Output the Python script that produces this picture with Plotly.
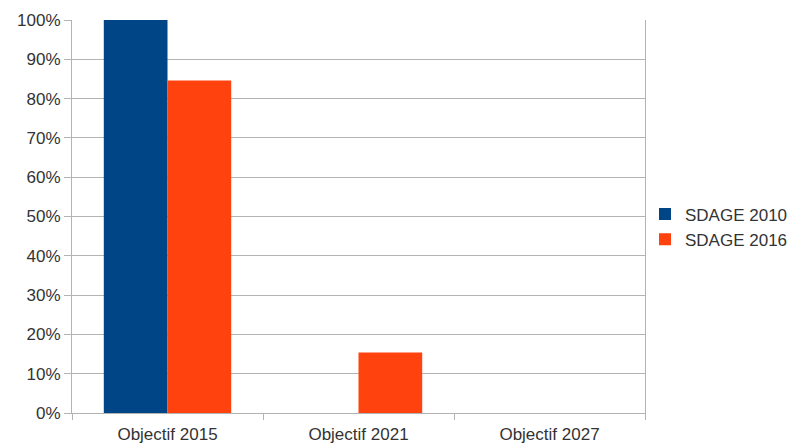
import plotly.graph_objects as go

# Part des masses d'eau par échéance d'objectif
categories = ["Objectif 2015", "Objectif 2021", "Objectif 2027"]
sdage_2010 = [100, 0, 0]
sdage_2016 = [84.6, 15.4, 0]
series_names = ["SDAGE 2010", "SDAGE 2016"]
y_ticks = [0, 10, 20, 30, 40, 50, 60, 70, 80, 90, 100]
y_tick_labels = [f"{v}%" for v in y_ticks]

FONT = "Liberation Sans, Arial, sans-serif"
GRID = "#b3b3b3"
TEXT = "#333333"

fig = go.Figure()
fig.add_trace(go.Bar(x=categories, y=sdage_2010, name=series_names[0],
                     marker=dict(color="#004586", line=dict(width=0))))
fig.add_trace(go.Bar(x=categories, y=sdage_2016, name=series_names[1],
                     marker=dict(color="#ff420e", line=dict(width=0))))

fig.update_layout(
    width=791, height=444,
    margin=dict(l=72, r=143, t=20, b=31),
    paper_bgcolor="white", plot_bgcolor="white",
    barmode="group", bargap=0.333, bargroupgap=0,
    font=dict(family=FONT, size=17, color=TEXT),
    legend=dict(xref="container", yref="container",
                x=645 / 791, xanchor="left", y=1 - 227 / 444, yanchor="middle",
                font=dict(size=17, color=TEXT), tracegroupgap=0,
                itemwidth=30, bgcolor="rgba(0,0,0,0)"),
    xaxis=dict(
        type="category", tickson="boundaries", showgrid=False,
        automargin=False,
        ticks="outside", ticklen=6, tickcolor=GRID, tickwidth=1,
        ticklabelstandoff=6,
        showline=True, linecolor=GRID, linewidth=1,
        tickfont=dict(size=17, color=TEXT),
    ),
    yaxis=dict(
        range=[0, 100], tickvals=y_ticks, ticktext=y_tick_labels,
        automargin=False,
        showgrid=True, gridcolor=GRID, gridwidth=1,
        ticks="outside", ticklen=7, tickcolor=GRID,
        showline=True, mirror=True, linecolor=GRID, linewidth=1,
        zeroline=False, tickfont=dict(size=17, color=TEXT),
    ),
)

fig.write_html("out.html")
